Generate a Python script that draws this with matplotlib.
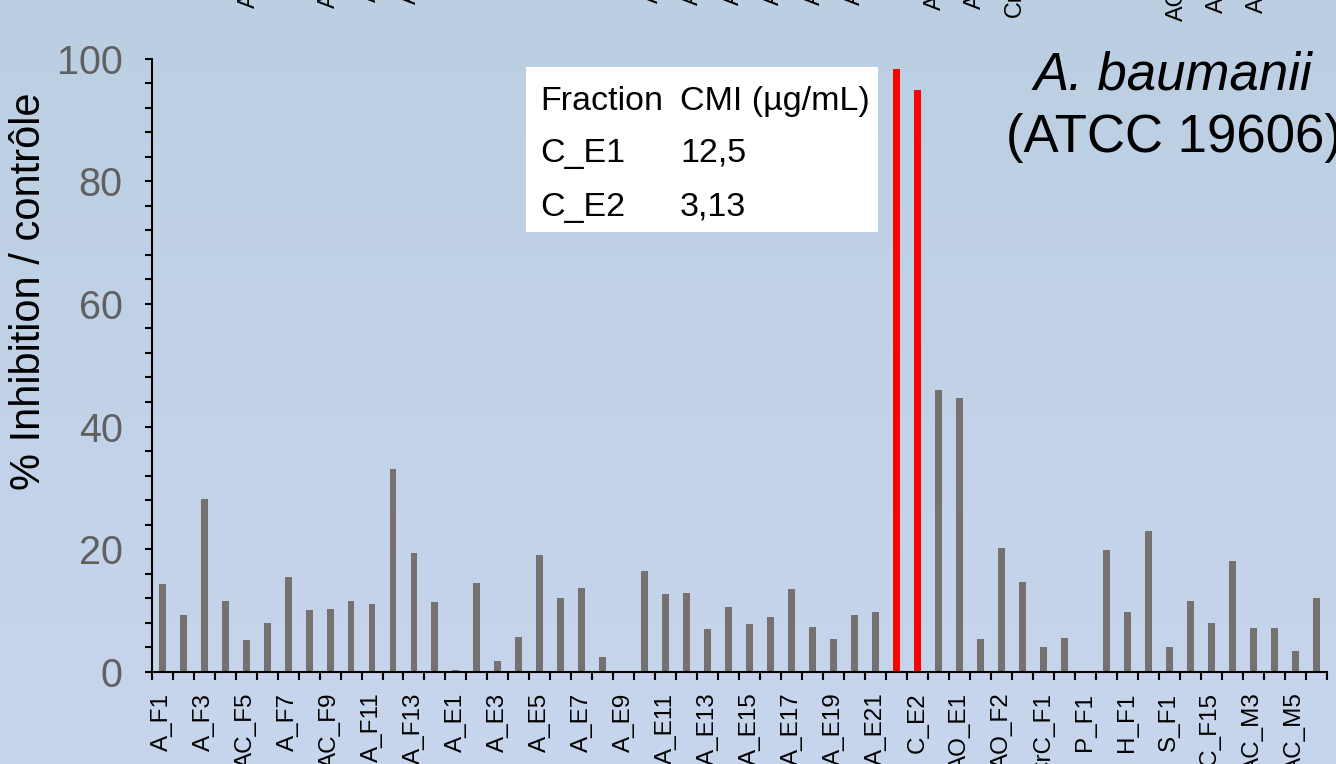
import numpy as np
import matplotlib
matplotlib.use("Agg")
import matplotlib.pyplot as plt
from matplotlib.patches import Rectangle
from matplotlib.ticker import MultipleLocator, FixedLocator, FixedFormatter, NullFormatter

plt.rcParams['font.family'] = ['Liberation Sans', 'DejaVu Sans']

# ---------------- data ----------------
values = [14.3, 9.2, 28.2, 11.6, 5.2, 8.0, 15.5, 10.0, 10.2, 11.6,
          11.1, 33.0, 19.3, 11.3, 0.2, 14.5, 1.8, 5.7, 19.0, 12.1,
          13.7, 2.4, 0.0, 16.4, 12.6, 12.9, 6.9, 10.5, 7.8, 9.0,
          13.5, 7.3, 5.4, 9.3, 9.7, 98.4, 94.9, 46.0, 44.7, 5.3,
          20.1, 14.7, 4.0, 5.5, 0.0, 19.8, 9.8, 23.0, 4.0, 11.6,
          7.9, 18.0, 7.2, 7.2, 3.4, 12.0]
# labels shown (every other category)
tick_labels = ['A_F1', 'A_F3', 'AC_F5', 'A_F7', 'AC_F9', 'A_F11', 'A_F13',
               'A_E1', 'A_E3', 'A_E5', 'A_E7', 'A_E9', 'A_E11', 'A_E13',
               'A_E15', 'A_E17', 'A_E19', 'A_E21', 'C_E2', 'AO_E1', 'AO_F2',
               'CrC_F1', 'P_F1', 'H_F1', 'S_F1', 'AC_F15', 'AC_M3', 'AC_M5']
highlight_idx = [35, 36]          # C_E1, C_E2
table_header = ['Fraction', 'CMI (µg/mL)']
table_rows = [['C_E1', '12,5'], ['C_E2', '3,13']]
title_lines = ['A. baumanii', '(ATCC 19606)']
ylabel = '% Inhibition / contrôle'

W, H = 1336, 764
fig = plt.figure(figsize=(W / 100, H / 100), dpi=100)

# background gradient
bg = fig.add_axes([0, 0, 1, 1], zorder=-10)
top = np.array([188, 207, 226]) / 255
bot = np.array([199, 213, 237]) / 255
t = np.linspace(0, 1, 256)[:, None]
grad = (top[None, :] * (1 - t) + bot[None, :] * t)[:, None, :]
bg.imshow(grad, aspect='auto', extent=[0, 1, 0, 1], origin='upper')
bg.axis('off')

n = len(values)
x = np.arange(n)
colors = ['#FF0000' if i in highlight_idx else '#767171' for i in range(n)]

ax = fig.add_axes([151.7 / W, (H - 671.7) / H, 1175 / W, 613 / H])
ax.patch.set_alpha(0)
ax.bar(x, values, width=0.33, color=colors, zorder=3)
ax.set_xlim(-0.5, n - 0.5)
ax.set_ylim(0, 100)

for s in ['top', 'right']:
    ax.spines[s].set_visible(False)
for s in ['left', 'bottom']:
    ax.spines[s].set_linewidth(1.5)
    ax.spines[s].set_color('black')
    ax.spines[s].set_zorder(4)

# y axis
ax.yaxis.set_major_locator(MultipleLocator(20))
ax.yaxis.set_minor_locator(MultipleLocator(4))
ax.tick_params(axis='y', which='both', direction='out', length=5, width=1.5,
               color='black', labelsize=28.5, labelcolor='#606060', pad=16)
ax.set_ylabel(ylabel, fontsize=30, color='black')
ax.yaxis.set_label_coords(-0.0875, 0.62)

# x axis: ticks at category boundaries, labels every other category
ax.xaxis.set_major_locator(FixedLocator(np.arange(-0.5, n, 1.0)))
ax.xaxis.set_major_formatter(NullFormatter())
ax.xaxis.set_minor_locator(FixedLocator(np.arange(0, n, 2)))
ax.xaxis.set_minor_formatter(FixedFormatter(tick_labels))
ax.tick_params(axis='x', which='major', direction='out', length=5.5, width=1.5, color='black')
ax.tick_params(axis='x', which='minor', length=0, labelsize=17.5, labelcolor='black',
               pad=15, labelrotation=90)

# table box
tx0, tx1, ty0, ty1 = 526, 878, 66.7, 231.7
fig.patches.append(Rectangle((tx0 / W, 1 - ty1 / H), (tx1 - tx0) / W, (ty1 - ty0) / H,
                             transform=fig.transFigure, facecolor='white',
                             edgecolor='none', zorder=5))
col_x = [540, 680]
row_y = [110, 161.7, 216]
for j, txt in enumerate(table_header):
    fig.text(col_x[j] / W, 1 - row_y[0] / H, txt, fontsize=24.5, ha='left',
             va='baseline', zorder=6)
for i, row in enumerate(table_rows):
    for j, txt in enumerate(row):
        fig.text(col_x[j] / W, 1 - row_y[i + 1] / H, txt, fontsize=24.5, ha='left',
                 va='baseline', zorder=6)

# title
fig.text(1173 / W, 1 - 89.3 / H, title_lines[0], fontsize=38, style='italic',
         ha='center', va='baseline')
fig.text(1174 / W, 1 - 151.7 / H, title_lines[1], fontsize=38,
         ha='center', va='baseline')

# partial labels of the panel above (cropped at the top edge)
gax = fig.add_axes([157.2 / W, (H + 85) / H, 1130 / W, 0.3])
gax.patch.set_alpha(0)
for s in gax.spines.values():
    s.set_visible(False)
gax.set_xlim(-0.5, n - 0.5)
gax.set_yticks([])
gax.xaxis.set_major_locator(FixedLocator([]))
gax.xaxis.set_minor_locator(FixedLocator(np.arange(0, n, 2)))
gax.xaxis.set_minor_formatter(FixedFormatter(tick_labels))
gax.tick_params(axis='x', which='minor', length=0, labelsize=16.8, labelcolor='black',
                pad=14.4, labelrotation=90)

fig.savefig('out.png', dpi=100)
